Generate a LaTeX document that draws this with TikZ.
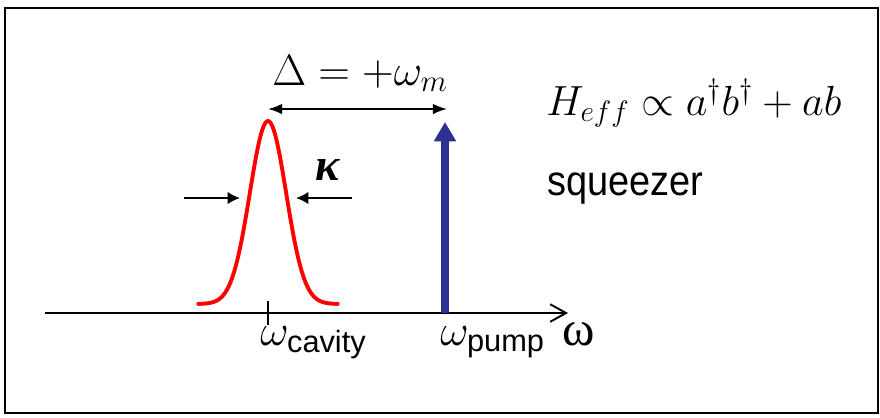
\RequirePackage{fix-cm}
\documentclass[tikz,border=0pt]{standalone}
\usepackage{amsmath}
\usepackage{fontspec}
\setsansfont{Liberation Sans}
\newfontfamily\greekserif{Liberation Serif}
\usetikzlibrary{arrows.meta}
\definecolor{pumpblue}{RGB}{46,49,146}

\begin{document}
\begin{tikzpicture}[
  x=0.02cm, y=-0.02cm,
  lbl/.style={inner sep=0pt, anchor=base west},
  big/.style={font=\fontsize{25}{29}\selectfont},
  axis/.style={-{Straight Barb[length=9pt,width=10pt]}, line width=1.1pt},
  widtharrow/.style={-{Latex[length=7pt,width=7pt]}, line width=0.9pt},
  detuning/.style={{Latex[length=8pt,width=6pt]}-{Latex[length=8pt,width=6pt]}, line width=1.1pt},
  pumparrow/.style={-{Triangle[length=11pt,width=12pt]}, line width=4pt, draw=pumpblue, fill=pumpblue},
  mode/.style={red, line width=2.2pt, line join=round, line cap=round}
]
\useasboundingbox (0,0) rectangle (880,417);
\draw[line width=0.9pt] (5,8) rectangle (878,413);

% frequency axis
\coordinate (axstart) at (45,313);
\coordinate (axend) at (568,313);
\coordinate (cav) at (268,313);
\coordinate (cavtick) at (268,301);
\coordinate (cavtickb) at (268,325);
\coordinate (pump) at (445,313);
\coordinate (pumptop) at (445,122);
\draw[axis] (axstart) -- (axend);
\draw[line width=0.9pt] (cavtick) -- (cavtickb);

% cavity line
\draw[mode] plot[domain=-70:70, samples=90] ({268+\x},{304-183*exp(-\x*\x/660)});

% pump tone
\draw[pumparrow] (pump) -- (pumptop);

% detuning
\coordinate (dl) at (268,109);
\coordinate (dr) at (447,109);
\draw[detuning] (dl) -- (dr);
\node[lbl, big] (delta) at (272,85) {$\Delta = +\omega_m$};

% linewidth
\coordinate (kl) at (184,198);
\coordinate (klt) at (240,198);
\coordinate (kr) at (352,198);
\coordinate (krt) at (296,198);
\draw[widtharrow] (kl) -- (klt);
\draw[widtharrow] (kr) -- (krt);
\node[inner sep=0pt, font=\greekserif\itshape\bfseries\fontsize{26}{30}\selectfont] (kappa) at (328,170) {κ};

% labels
\node[lbl, font=\fontsize{24}{28}\selectfont] (hamil) at (546,115) {$H_{eff} \propto a^\dagger b^\dagger + ab$};
\node[lbl, font=\sffamily\fontsize{24}{28}\selectfont, xscale=0.9] (squeeze) at (547,195) {squeezer};
\node[lbl, big] (wcav) at (260,345) {$\omega_{\textsf{cavity}}$};
\node[lbl, big] (wpump) at (440,345) {$\omega_{\textsf{pump}}$};
\node[lbl, font=\greekserif\fontsize{28}{32}\selectfont] (wlabel) at (562,345) {ω};
\end{tikzpicture}
\end{document}
